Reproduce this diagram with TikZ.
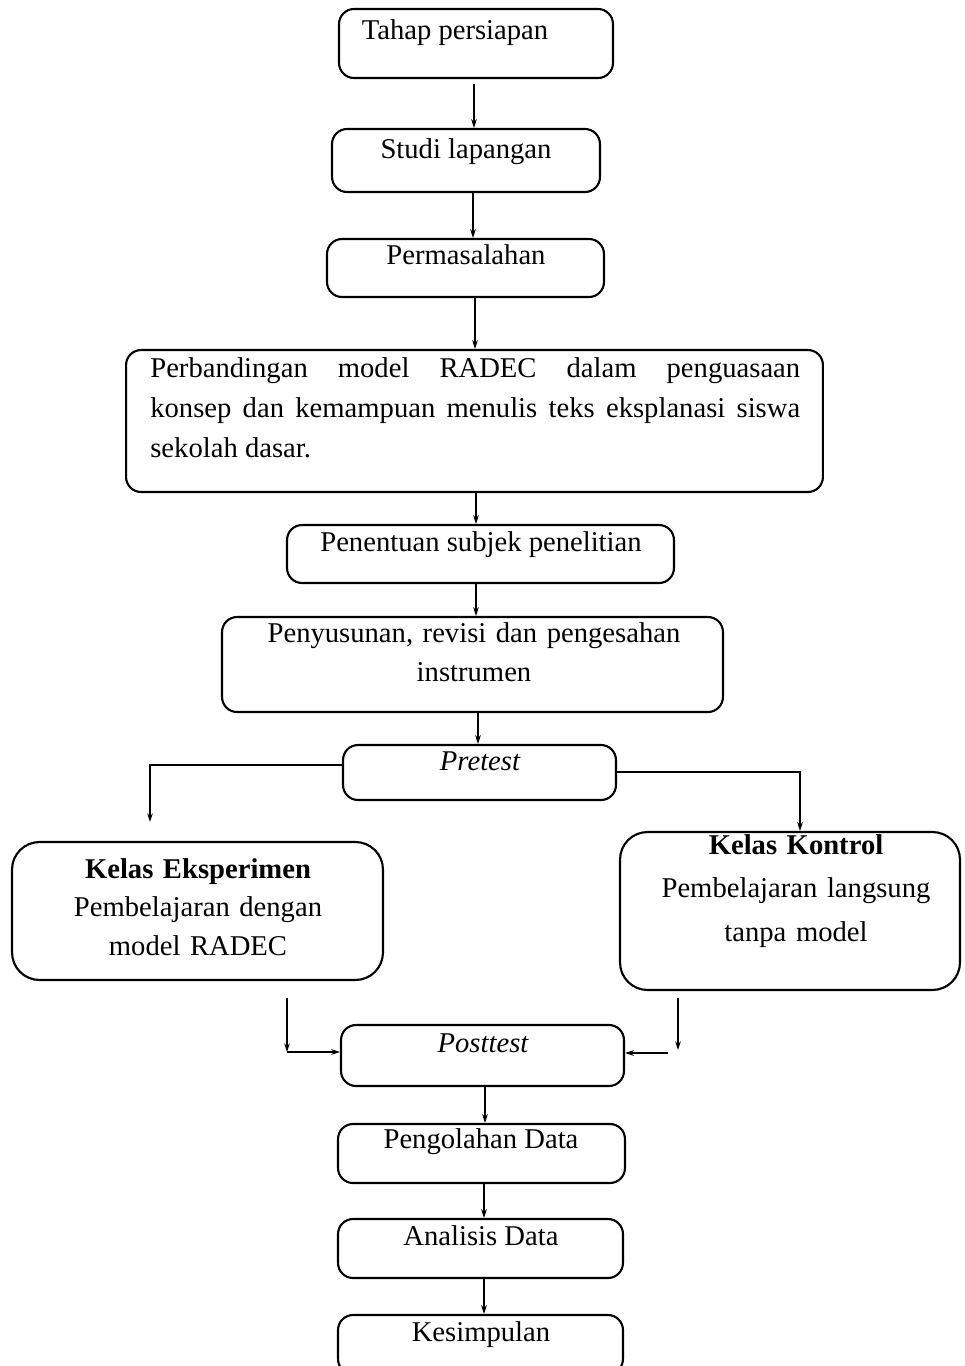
\documentclass[tikz,border=0pt]{standalone}
\usepackage{fontspec}
\setmainfont{Liberation Serif}
\usepackage{tikz}
\usetikzlibrary{arrows.meta}
\setlength{\parindent}{0pt}

\tikzset{
  stepbox/.style={draw, line width=1.2pt, rounded corners=0.3cm, inner sep=0pt},
  kelasbox/.style={stepbox, rounded corners=0.55cm},
  lbl/.style={anchor=base, inner sep=0pt, font=\fontsize{16.3}{23}\selectfont},
  arr/.style={line width=0.6pt, -{Stealth[length=5pt,width=3.2pt]}},
  lin/.style={line width=0.6pt}
}

\begin{document}
\begin{tikzpicture}[x=0.02cm,y=-0.02cm]
      \useasboundingbox (0,0) rectangle (964,1366);
      \node[stepbox, minimum width=5.48cm, minimum height=1.38cm] (persiapan) at (476,43.5) {};
      \node[lbl] (persiapanT) at (455,39) {Tahap persiapan};
      \node[stepbox, minimum width=5.36cm, minimum height=1.26cm] (studi) at (466,160.5) {};
      \node[lbl] (studiT) at (466,158) {Studi lapangan};
      \node[stepbox, minimum width=5.54cm, minimum height=1.16cm] (masalah) at (465.5,268) {};
      \node[lbl] (masalahT) at (466,264) {Permasalahan};
      \node[stepbox, minimum width=13.94cm, minimum height=2.84cm] (banding) at (474.5,421) {};
      \node[lbl, anchor=base west, text width=13cm, align=justify] (bandingT) at (150,377)
        {Perbandingan model RADEC dalam penguasaan\linebreak konsep dan kemampuan menulis teks eksplanasi siswa\linebreak sekolah dasar.};
      \node[stepbox, minimum width=7.74cm, minimum height=1.16cm] (subjek) at (480.5,554) {};
      \node[lbl] (subjekT) at (481,551) {Penentuan subjek penelitian};
      \node[stepbox, minimum width=10.02cm, minimum height=1.9cm] (instrumen) at (472.5,664.5) {};
      \node[lbl, text width=9.8cm, align=center, font=\fontsize{16.3}{22.7}\selectfont] (instrumenT) at (474,642)
        {Penyusunan, revisi dan pengesahan\\instrumen};
      \node[stepbox, minimum width=5.46cm, minimum height=1.1cm] (pretest) at (479.5,772.5) {};
      \node[lbl] (pretestT) at (480,770) {\itshape Pretest};
      \node[kelasbox, minimum width=7.42cm, minimum height=2.76cm] (eksperimen) at (197.5,911) {};
      \node[lbl, text width=7.2cm, align=center, font=\fontsize{16.3}{22}\selectfont] (eksperimenT) at (198,878)
        {\textbf{Kelas Eksperimen}\\Pembelajaran dengan\\model RADEC};
      \node[kelasbox, minimum width=6.8cm, minimum height=3.16cm] (kontrol) at (790,911) {};
      \node[lbl, text width=6.7cm, align=center, font=\fontsize{16.3}{25}\selectfont] (kontrolT) at (796,854)
        {\textbf{Kelas Kontrol}\\Pembelajaran langsung\\tanpa model};
      \node[stepbox, minimum width=5.66cm, minimum height=1.22cm] (posttest) at (482.5,1055.5) {};
      \node[lbl] (posttestT) at (483,1052) {\itshape Posttest};
      \node[stepbox, minimum width=5.74cm, minimum height=1.18cm] (olah) at (481.5,1153.5) {};
      \node[lbl] (olahT) at (481,1148) {Pengolahan Data};
      \node[stepbox, minimum width=5.7cm, minimum height=1.18cm] (analisis) at (480.5,1248.5) {};
      \node[lbl] (analisisT) at (481,1245) {Analisis Data};
      \node[stepbox, minimum width=5.7cm, minimum height=1.18cm] (simpulan) at (480.5,1344.5) {};
      \node[lbl] (simpulanT) at (481,1341) {Kesimpulan};

      \draw[arr] (persiapan.south -| 474,0) ++(0,5) -- (studi.north -| 474,0);
      \draw[arr] (studi.south -| 473,0) -- (masalah.north -| 473,0);
      \draw[arr] (masalah.south -| 475,0) -- (banding.north -| 475,0);
      \draw[arr] (banding.south -| 476,0) -- (subjek.north -| 476,0);
      \draw[arr] (subjek.south -| 476,0) -- (instrumen.north -| 476,0);
      \draw[arr] (instrumen.south -| 478,0) -- (pretest.north -| 478,0);

      \coordinate (eksIn) at (150,822);
      \draw[arr] (pretest.west |- 0,765) -| (eksIn);
      \draw[arr] (pretest.east |- 0,772) -| (kontrol.north -| 800,0);

      \coordinate (eksOut) at (287,998);
      \coordinate (eksJoin) at (287,1052);
      \coordinate (konOut) at (678,998);
      \coordinate (konEnd) at (678,1050);
      \coordinate (konJoin) at (668,1053);
      \draw[arr] (eksOut) -- (eksJoin);
      \draw[arr] (eksJoin) -- (posttest.west |- eksJoin);
      \draw[arr] (konOut) -- (konEnd);
      \draw[arr] (konJoin) -- (posttest.east |- konJoin);

      \draw[arr] (posttest.south -| 485,0) -- (olah.north -| 485,0);
      \draw[arr] (olah.south -| 484,0) -- (analisis.north -| 484,0);
      \draw[arr] (analisis.south -| 484,0) -- (simpulan.north -| 484,0);
    \end{tikzpicture}
\end{document}
